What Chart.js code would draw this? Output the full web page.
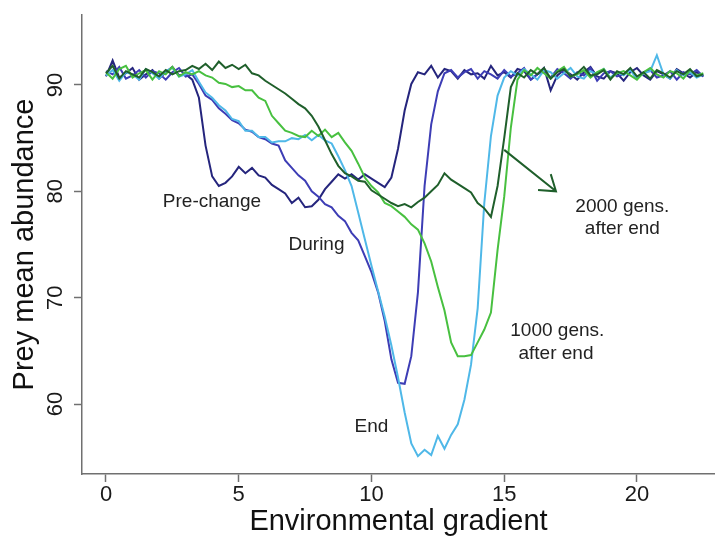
<!DOCTYPE html>
<html>
<head>
<meta charset="utf-8">
<script src="https://cdn.jsdelivr.net/npm/chart.js@4.4.0/dist/chart.umd.min.js"></script>
<style>
html,body{margin:0;padding:0;background:#fff;}
#wrap{width:715px;height:536px;}
</style>
</head>
<body>
<div id="wrap"><canvas id="c" width="715" height="536"></canvas></div>
<script>
// ---- data ----
const gradient = [0,0.25,0.5,0.75,1,1.25,1.5,1.75,2,2.25,2.5,2.75,3,3.25,3.5,3.75,4,4.25,4.5,4.75,
  5,5.25,5.5,5.75,6,6.25,6.5,6.75,7,7.25,7.5,7.75,8,8.25,8.5,8.75,9,9.25,9.5,9.75,
  10,10.25,10.5,10.75,11,11.25,11.5,11.75,12,12.25,12.5,12.75,13,13.25,13.5,13.75,14,14.25,14.5,14.75,
  15,15.25,15.5,15.75,16,16.25,16.5,16.75,17,17.25,17.5,17.75,18,18.25,18.5,18.75,19,19.25,19.5,19.75,
  20,20.25,20.5,20.75,21,21.25,21.5,21.75,22,22.25,22.5];

const preChange = [90.8,92.3,90.7,91.1,91.6,90.5,91.0,91.4,90.6,91.2,91.7,90.9,91.0,90.5,
  88.8,84.3,81.4,80.5,80.8,81.4,82.3,81.7,82.2,81.5,
  81.3,80.6,80.2,79.8,78.9,79.4,78.5,78.6,79.2,80.2,
  80.9,81.6,81.2,81.6,81.1,81.6,81.2,80.8,80.4,81.3,
  84.0,87.6,90.1,91.2,91.0,91.8,90.7,91.5,91.3,90.6,
  91.4,91.0,91.1,90.6,91.8,90.9,
  91.2,90.7,91.5,91.3,90.5,91.0,91.6,89.5,90.9,91.4,91.0,90.5,91.2,91.7,90.8,90.6,
  91.3,91.1,90.4,91.2,91.6,90.9,90.5,91.3,91.0,90.6,91.5,91.1,90.7,91.2,90.8];

const during = [91.3,91.0,91.7,90.6,90.9,91.4,90.7,91.3,91.1,90.5,91.2,91.6,90.8,91.0,
  90.1,89.0,88.6,87.8,87.3,86.7,86.4,85.8,85.6,85.1,
  84.9,84.5,84.3,82.9,82.2,81.5,81.0,80.0,79.5,78.8,
  78.5,77.7,77.2,76.1,75.4,73.9,72.4,70.5,67.8,64.2,
  62.0,61.9,64.5,70.5,80.5,86.3,89.4,91.1,91.4,90.7,
  91.2,91.5,90.6,91.3,91.0,90.6,
  91.4,90.8,91.1,91.6,90.5,91.0,91.3,90.7,91.5,91.1,90.6,91.2,90.9,91.6,90.4,91.1,
  91.3,90.8,91.0,91.5,90.6,91.2,91.4,90.7,90.9,91.3,90.5,91.2,91.0,91.4,90.8];

const endOfChange = [90.9,91.4,90.4,91.2,91.0,90.5,91.5,91.1,90.6,91.3,91.6,90.8,91.0,91.4,
  90.3,89.3,88.8,88.1,87.6,86.8,86.6,85.7,85.7,85.1,
  85.1,84.6,84.7,84.7,85.0,84.9,85.3,84.8,85.3,84.8,
  84.5,83.3,82.0,80.5,78.0,75.5,73.0,70.6,68.2,65.5,
  62.5,59.2,56.3,55.1,55.7,55.2,57.0,55.8,57.1,58.1,
  60.4,63.7,69.0,78.9,85.2,89.0,
  90.7,91.3,90.9,91.5,91.0,90.5,91.4,91.2,90.6,91.1,91.6,90.8,90.6,91.3,91.0,91.5,
  90.7,91.2,90.9,91.4,90.6,91.1,91.3,92.8,91.0,90.6,91.4,90.9,91.2,90.7,91.0];

const after1000 = [91.2,90.6,91.5,91.8,90.7,91.1,91.4,90.5,91.3,91.0,91.7,90.8,91.2,91.0,
  91.3,90.9,90.7,90.2,90.1,89.8,89.9,89.5,89.5,88.8,
  88.5,87.1,86.4,85.7,85.5,85.2,85.1,85.7,85.2,85.8,
  85.1,85.5,84.6,83.8,82.6,81.3,80.5,79.9,78.9,78.6,
  78.1,77.6,76.9,76.4,75.1,73.4,71.0,68.8,65.8,64.5,
  64.5,64.6,65.8,67.0,68.6,74.5,
  79.5,86.0,90.5,91.4,90.9,91.6,91.1,90.6,91.3,91.7,90.8,91.0,91.4,90.7,91.2,91.5,
  90.6,91.1,91.3,90.9,90.5,91.2,91.6,91.0,90.7,91.3,91.1,90.6,91.4,90.9,91.1];

const after2000 = [91.1,91.8,90.6,91.3,91.0,90.7,91.5,91.2,90.8,91.4,91.0,91.3,
  91.4,91.8,91.5,92.0,91.4,92.2,91.6,91.9,91.5,91.9,
  91.1,90.9,90.4,90.0,89.6,89.2,88.7,88.2,87.8,87.1,
  86.1,84.8,83.5,82.4,81.7,81.4,81.0,80.9,80.1,79.7,
  79.3,78.9,78.6,78.8,78.5,79.0,79.4,80.0,80.6,81.7,
  81.1,80.7,80.3,79.9,78.9,78.4,77.6,80.5,
  85.0,89.8,91.1,90.7,91.4,91.0,91.6,90.6,91.2,91.5,90.8,91.1,91.7,90.9,91.0,91.4,
  90.5,91.3,91.0,91.6,90.8,91.2,90.6,91.4,91.1,90.7,91.3,91.0,91.5,90.8,91.0];

const xTicks = [0, 5, 10, 15, 20];
const yTicks = [60, 70, 80, 90];

// text annotations (data coordinates)
const noteTexts = ['Pre-change', 'During', 'End', '1000 gens.', 'after end', '2000 gens.', 'after end'];
const noteX = [3.99, 7.93, 10.0, 17.0, 16.95, 19.45, 19.45];
const noteY = [79.05, 75.0, 57.9, 66.86, 64.76, 78.57, 76.51];
const arrowFrom = [15.0, 83.9];
const arrowTo = [16.95, 80.0];

// ---- chart ----
const FONT = "'Liberation Sans', Arial, Helvetica, sans-serif";
const AXIS = '#707070';
const pts = ys => gradient.map((g, i) => ({x: g, y: ys[i]}));
const mk = (label, ys, color, order) => ({
  label, data: pts(ys), borderColor: color, backgroundColor: color,
  borderWidth: 2, pointRadius: 0, tension: 0, fill: false, order
});

const notes = {
  id: 'notes',
  afterDraw(chart) {
    const {ctx, scales: {x, y}} = chart;
    ctx.save();
    // rotated y tick labels (R style)
    ctx.font = '22px ' + FONT;
    ctx.fillStyle = '#1a1a1a';
    ctx.textAlign = 'center';
    ctx.textBaseline = 'middle';
    yTicks.forEach(v => {
      ctx.save();
      ctx.translate(y.right - 26, y.getPixelForValue(v));
      ctx.rotate(-Math.PI / 2);
      ctx.fillText(String(v), 0, 0);
      ctx.restore();
    });
    // curve labels
    ctx.font = '19px ' + FONT;
    ctx.fillStyle = '#222';
    noteTexts.forEach((t, i) => {
      ctx.fillText(t, x.getPixelForValue(noteX[i]), y.getPixelForValue(noteY[i]));
    });
    // arrow
    const x0 = x.getPixelForValue(arrowFrom[0]), y0 = y.getPixelForValue(arrowFrom[1]);
    const x1 = x.getPixelForValue(arrowTo[0]), y1 = y.getPixelForValue(arrowTo[1]);
    const ang = Math.atan2(y1 - y0, x1 - x0);
    const hl = 18, ha = 0.6;
    ctx.strokeStyle = '#1f5f2b';
    ctx.lineWidth = 2;
    ctx.beginPath();
    ctx.moveTo(x0, y0); ctx.lineTo(x1, y1);
    ctx.moveTo(x1 - hl * Math.cos(ang - ha), y1 - hl * Math.sin(ang - ha));
    ctx.lineTo(x1, y1);
    ctx.lineTo(x1 - hl * Math.cos(ang + ha), y1 - hl * Math.sin(ang + ha));
    ctx.stroke();
    ctx.restore();
  }
};

new Chart(document.getElementById('c'), {
  type: 'line',
  data: {
    datasets: [
      mk('2000 gens. after end', after2000, '#1f5f2b', 0),
      mk('1000 gens. after end', after1000, '#48c040', 1),
      mk('End', endOfChange, '#4fb8e8', 2),
      mk('During', during, '#3d3db5', 3),
      mk('Pre-change', preChange, '#25257d', 4)
    ]
  },
  options: {
    responsive: false,
    animation: false,
    devicePixelRatio: 1,
    layout: {padding: {top: 15, left: 0, right: 0, bottom: 0}},
    plugins: {legend: {display: false}, tooltip: {enabled: false}},
    scales: {
      x: {
        type: 'linear',
        min: -0.904, max: 22.94,
        afterBuildTicks: s => { s.ticks = xTicks.map(v => ({value: v})); },
        afterFit: s => { s.height = 62; },
        ticks: {color: '#1a1a1a', font: {family: FONT, size: 22}, padding: 0, maxRotation: 0, autoSkip: false},
        grid: {drawOnChartArea: false, drawTicks: true, tickLength: 8, tickColor: AXIS, tickWidth: 1.5},
        border: {display: true, color: AXIS, width: 1.5},
        title: {display: true, text: 'Environmental gradient', color: '#111',
                font: {family: FONT, size: 29, lineHeight: 1}, padding: {top: 0, bottom: 0}}
      },
      y: {
        type: 'linear',
        min: 53.42, max: 96.58,
        afterBuildTicks: s => { s.ticks = yTicks.map(v => ({value: v})); },
        afterFit: s => { s.width = 82; },
        ticks: {display: false},
        grid: {drawOnChartArea: false, drawTicks: true, tickLength: 8, tickColor: AXIS, tickWidth: 1.5},
        border: {display: true, color: AXIS, width: 1.5},
        title: {display: true, text: 'Prey mean abundance', color: '#111',
                font: {family: FONT, size: 29, lineHeight: 1}, padding: {top: 10, bottom: 0}}
      }
    }
  },
  plugins: [notes]
});
</script>
</body>
</html>
